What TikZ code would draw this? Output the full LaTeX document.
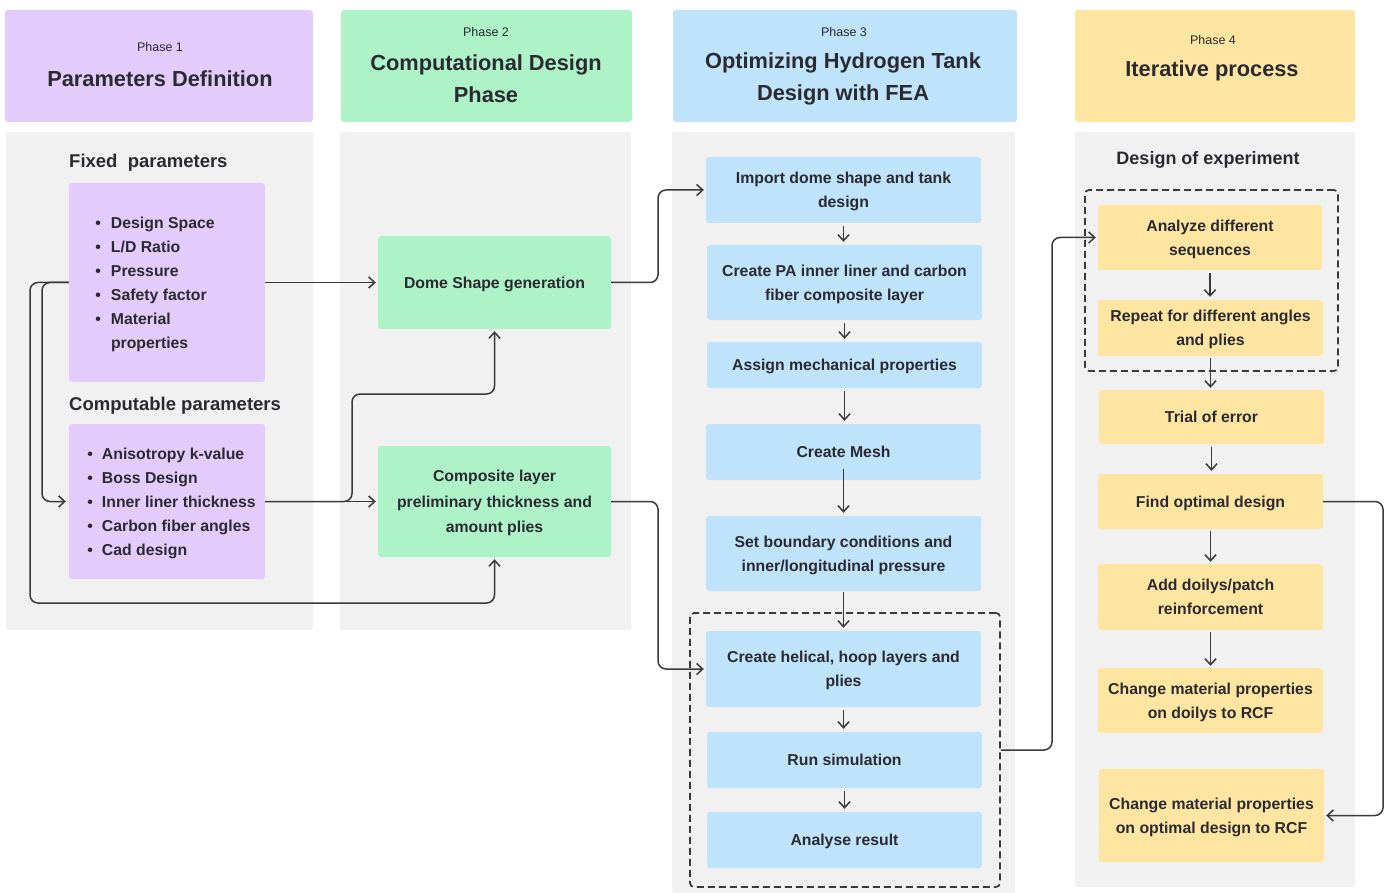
\documentclass[tikz,border=0pt]{standalone}
\usepackage{fontspec}
\setmainfont{Liberation Sans}
\usetikzlibrary{arrows.meta}
\definecolor{purp}{HTML}{E3CCFB}
\definecolor{grn}{HTML}{AEF3C8}
\definecolor{blu}{HTML}{BEE3FB}
\definecolor{yel}{HTML}{FEE6A2}
\definecolor{colbg}{HTML}{F1F1F1}
\definecolor{ink}{HTML}{2A2A30}
\definecolor{wire}{HTML}{3A3A3A}
\newcommand{\itemA}[1]{\makebox[186pt][l]{\makebox[37pt][l]{\hspace{21.3pt}\textbullet}#1}}
\newcommand{\itemB}[1]{\makebox[186pt][l]{\makebox[28pt][l]{\hspace{13.3pt}\textbullet}#1}}
\begin{document}
\begin{tikzpicture}[x=1pt,y=-1pt,
  hdr/.style={draw=none, rounded corners=3pt, inner sep=0pt},
  fbox/.style={draw=none, rounded corners=3pt, inner sep=0pt, align=center, text=ink, text depth=-2.5pt, font=\fontsize{15.8}{24}\selectfont\bfseries},
  smalltxt/.style={text=ink, inner sep=0pt, font=\fontsize{12.5}{15}\selectfont},
  titletxt/.style={text=ink, inner sep=0pt, align=center, font=\fontsize{21.8}{32}\selectfont\bfseries},
  subhd/.style={text=ink, inner sep=0pt, font=\fontsize{18.5}{22}\selectfont\bfseries},
  conn/.style={draw=wire, line width=1.5pt, rounded corners=8pt, -{Straight Barb[length=6pt,width=11pt]}, shorten >=2pt},
  varr/.style={draw=wire, line width=1.5pt, -{Straight Barb[length=6pt,width=11pt]}, shorten <=3pt, shorten >=3pt},
  dashbox/.style={draw=wire, line width=1.7pt, dash pattern=on 7pt off 4pt, rounded corners=4pt, inner sep=0pt},
]
\useasboundingbox (0,0) rectangle (1392,893);
% column backgrounds
\fill[colbg, rounded corners=2pt] (6,132) rectangle (313,630);
\fill[colbg, rounded corners=2pt] (340,132) rectangle (631,630);
\fill[colbg, rounded corners=2pt] (672,132) rectangle (1015,893);
\fill[colbg, rounded corners=2pt] (1075,132) rectangle (1355,887);

% headers
\node[hdr, fill=purp, minimum width=308pt, minimum height=112pt] (h1) at (159,66) {};
\node[hdr, fill=grn, minimum width=291pt, minimum height=112pt] (h2) at (486.5,66) {};
\node[hdr, fill=blu, minimum width=344pt, minimum height=112pt] (h3) at (845,66) {};
\node[hdr, fill=yel, minimum width=280pt, minimum height=112pt] (h4) at (1215,66) {};
\node[smalltxt] (h1a) at (160,47.5) {Phase 1};
\node[titletxt] (h1b) at (160,79) {Parameters Definition};
\node[smalltxt] (h2a) at (486,32.5) {Phase 2};
\node[titletxt] (h2b) at (486,79) {Computational Design\\Phase};
\node[smalltxt] (h3a) at (844,32.5) {Phase 3};
\node[titletxt] (h3b) at (843,79) {Optimizing Hydrogen Tank\\Design with FEA};
\node[smalltxt] (h4a) at (1213,40.5) {Phase 4};
\node[titletxt] (h4b) at (1212,71) {Iterative process};

% column 1
\node[subhd, anchor=west] (fixhd) at (69,163) {Fixed~ parameters};
\node[subhd, anchor=west] (comphd) at (69,406) {Computable parameters};
\node[fbox, fill=purp, minimum width=196pt, minimum height=199pt, align=left] (fixed) at (167,282.5)
  {\itemA{Design Space}\\ \itemA{L/D Ratio}\\ \itemA{Pressure}\\ \itemA{Safety factor}\\ \itemA{Material}\\ \makebox[186pt][l]{\hspace{37pt}properties}};
\node[fbox, fill=purp, minimum width=196pt, minimum height=155pt, align=left] (comp) at (167,501.5)
  {\itemB{Anisotropy k-value}\\ \itemB{Boss Design}\\ \itemB{Inner liner thickness}\\ \itemB{Carbon fiber angles}\\ \itemB{Cad design}};

% column 2
\node[fbox, fill=grn, minimum width=233pt, minimum height=93pt] (dome) at (494.5,282.5) {Dome Shape generation};
\node[fbox, fill=grn, minimum width=233pt, minimum height=111pt, font=\fontsize{15.8}{25.5}\selectfont\bfseries] (composite) at (494.5,501.5) {Composite layer\\preliminary thickness and\\amount plies};

% column 3
\node[fbox, fill=blu, minimum width=275pt, minimum height=66pt, text depth=-4pt] (import) at (843.5,190) {Import dome shape and tank\\design};
\node[fbox, fill=blu, minimum width=275pt, minimum height=75pt] (pa) at (844.5,282.5) {Create PA inner liner and carbon\\fiber composite layer};
\node[fbox, fill=blu, minimum width=275pt, minimum height=46pt] (assign) at (844.5,365) {Assign mechanical properties};
\node[fbox, fill=blu, minimum width=275pt, minimum height=56pt] (mesh) at (843.5,452) {Create Mesh};
\node[fbox, fill=blu, minimum width=275pt, minimum height=75pt] (setbc) at (843.5,553.5) {Set boundary conditions and\\inner/longitudinal pressure};
\node[dashbox, minimum width=310pt, minimum height=274pt] (loop3) at (845,750) {};
\node[fbox, fill=blu, minimum width=275pt, minimum height=76pt] (helical) at (843.5,669) {Create helical, hoop layers and\\plies};
\node[fbox, fill=blu, minimum width=275pt, minimum height=56pt] (run) at (844.5,760) {Run simulation};
\node[fbox, fill=blu, minimum width=275pt, minimum height=56pt] (analyse) at (844.5,840) {Analyse result};

% column 4
\node[subhd, font=\fontsize{18}{22}\selectfont\bfseries] (doehd) at (1208,160) {Design of experiment};
\node[dashbox, minimum width=253pt, minimum height=181pt] (loop4) at (1211.5,280.5) {};
\node[fbox, fill=yel, minimum width=224pt, minimum height=65pt] (analyze) at (1210,237.5) {Analyze different\\sequences};
\node[fbox, fill=yel, minimum width=225pt, minimum height=56pt] (repeat) at (1210.5,328) {Repeat for different angles\\and plies};
\node[fbox, fill=yel, minimum width=225pt, minimum height=54pt] (trial) at (1211.5,417) {Trial of error};
\node[fbox, fill=yel, minimum width=225pt, minimum height=55pt] (find) at (1210.5,501.5) {Find optimal design};
\node[fbox, fill=yel, minimum width=225pt, minimum height=66pt] (add) at (1210.5,597) {Add doilys/patch\\reinforcement};
\node[fbox, fill=yel, minimum width=225pt, minimum height=65pt] (chd) at (1210.5,700.5) {Change material properties\\on doilys to RCF};
\node[fbox, fill=yel, minimum width=225pt, minimum height=93pt] (cho) at (1211.5,815.5) {Change material properties\\on optimal design to RCF};

% connectors
\draw[conn] (fixed.east) -- (dome.west);
\draw[conn, shorten >=3pt] (fixed.west) -- (42,282.5) |- (comp.west);
\draw[conn] (fixed.west) -- (30,282.5) -- (30,603) -| (composite.south);
\draw[conn] (comp.east) -- (composite.west);
\draw[conn] (comp.east) -- (352,501.5) -- (352,394) -| (dome.south);
\draw[conn] (dome.east) -- (658,282.5) |- (import.west);
\draw[conn] (composite.east) -- (658,501.5) |- (helical.west);
\draw[conn] (loop3.east) -- (1052,750) |- (analyze.west);
\draw[conn] (find.east) -- (1383,501.5) |- (cho.east);

\draw[varr] (import.south) -- (import.south |- pa.north);
\draw[varr] (pa.south) -- (pa.south |- assign.north);
\draw[varr] (assign.south) -- (assign.south |- mesh.north);
\draw[varr, shorten <=-11pt] (mesh.south) -- (mesh.south |- setbc.north);
\draw[varr, shorten <=1pt] (setbc.south) -- (setbc.south |- helical.north);
\draw[varr] (helical.south) -- (helical.south |- run.north);
\draw[varr] (run.south) -- (run.south |- analyse.north);

\draw[varr] (analyze.south) -- (analyze.south |- repeat.north);
\draw[varr, shorten <=2pt, shorten >=2pt] (repeat.south) -- (repeat.south |- trial.north);
\draw[varr] (trial.south) -- (trial.south |- find.north);
\draw[varr, shorten <=2pt, shorten >=2pt] (find.south) -- (find.south |- add.north);
\draw[varr, shorten <=2pt, shorten >=2pt] (add.south) -- (add.south |- chd.north);
\end{tikzpicture}
\end{document}
